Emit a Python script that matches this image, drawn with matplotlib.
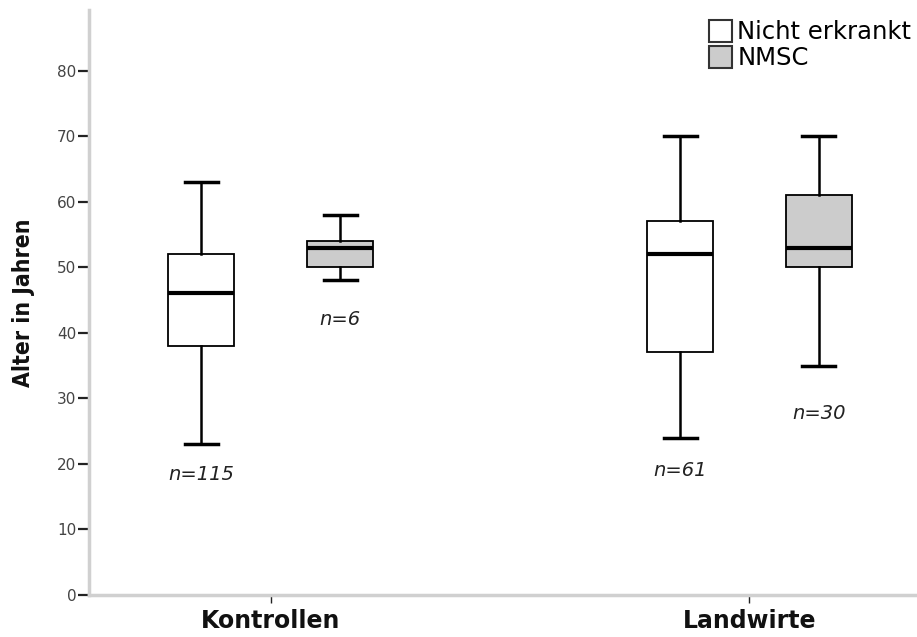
import matplotlib
matplotlib.use("Agg")
import matplotlib.pyplot as plt
from matplotlib.patches import Patch

# Age distribution (five-number summaries) per study group and disease status
groups = ["Kontrollen", "Landwirte"]
statuses = ["Nicht erkrankt", "NMSC"]
whisker_low = [[23, 48], [24, 35]]
q1 = [[38, 50], [37, 50]]
median = [[46, 53], [52, 53]]
q3 = [[52, 54], [57, 61]]
whisker_high = [[63, 58], [70, 70]]
n_cases = [[115, 6], [61, 30]]

fills = ["white", "#cccccc"]
offset = 0.145
box_w = 0.138
label_drop = [[4.6, 6.0], [5.0, 7.3]]

fig = plt.figure(figsize=(9.17, 6.37), dpi=100)
ax = fig.add_axes([0.097, 0.066, 0.903, 0.918])

for gi, g in enumerate(groups):
    for si, s in enumerate(statuses):
        pos = gi + (si * 2 - 1) * offset
        stats = [{
            "whislo": whisker_low[gi][si], "q1": q1[gi][si], "med": median[gi][si],
            "q3": q3[gi][si], "whishi": whisker_high[gi][si], "fliers": [],
        }]
        ax.bxp(stats, positions=[pos], widths=box_w, patch_artist=True,
               showfliers=False, manage_ticks=False,
               boxprops=dict(facecolor=fills[si], edgecolor="black", linewidth=1.3),
               medianprops=dict(color="black", linewidth=3),
               whiskerprops=dict(color="black", linewidth=1.8),
               capprops=dict(color="black", linewidth=2.5),
               capwidths=box_w / 2)
        ax.text(pos, whisker_low[gi][si] - label_drop[gi][si], f"n={n_cases[gi][si]}",
                ha="center", va="center", style="italic", fontsize=14,
                color="#222222")

ax.set_xlim(-0.38, 1.35)
ax.set_ylim(0, 89.2)
ax.set_xticks(range(len(groups)))
ax.set_xticklabels(groups, fontsize=17, fontweight="bold", color="#111111")
ax.set_yticks(range(0, 90, 10))
ax.tick_params(axis="y", length=8, width=1.6, color="#222222",
               labelsize=11, labelcolor="#444444", pad=1)
ax.tick_params(axis="x", length=6, width=1, color="#222222", pad=4)
ax.set_ylabel("Alter in Jahren", fontsize=16.5, fontweight="bold",
              fontstretch="condensed", color="#111111", labelpad=16)

for side in ["top", "right"]:
    ax.spines[side].set_visible(False)
for side in ["left", "bottom"]:
    ax.spines[side].set_color("#d0d0d0")
    ax.spines[side].set_linewidth(2.5)

handles = [Patch(facecolor=fills[i], edgecolor="#333333", linewidth=1.5, label=s)
           for i, s in enumerate(statuses)]
ax.legend(handles=handles, loc="upper right", bbox_to_anchor=(0.993, 0.983),
          frameon=False, fontsize=17.5, handlelength=0.95, handleheight=1.0,
          handletextpad=0.2, labelspacing=0.08, borderaxespad=0.0,
          borderpad=0.0)

fig.savefig("out.png", dpi=100)
